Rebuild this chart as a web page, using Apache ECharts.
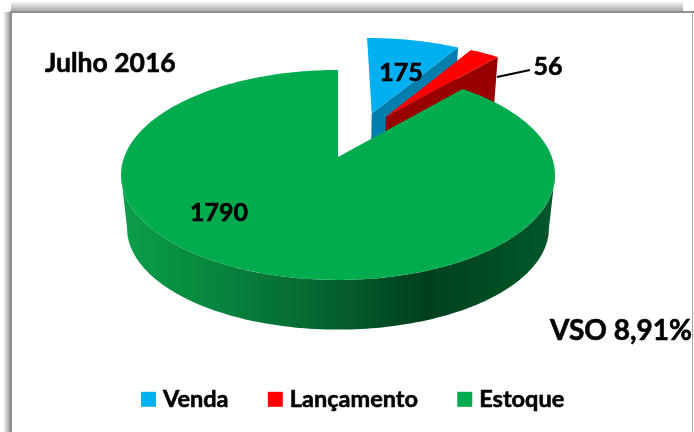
<!DOCTYPE html>
<html>
<head>
<meta charset="utf-8">
<style>html,body{margin:0;padding:0;background:#fff}#c{width:694px;height:432px}</style>
<script src="https://cdn.jsdelivr.net/npm/echarts@6/dist/echarts.min.js"></script>
</head>
<body>
<div id="c"></div>
<script>
const categories = ['Venda', 'Lançamento', 'Estoque'];
const values = [175, 56, 1790];
const chartTitle = 'Julho 2016';
const noteText = 'VSO 8,91%';

const topColors = ['#00B0F0', '#FF0000', '#00AC4E'];
const wallColors = ['#007FAE', '#990000', null];
const explode = [[0.17, 0.46], [0.24, 0.425], [0, 0]];
const labelPos = [[401, 73], [548, 67], [219, 213]];

const FONT = 'Lato, "Open Sans", sans-serif';
const total = values.reduce((a, b) => a + b, 0);
const starts = values.map((_, i) => values.slice(0, i).reduce((a, b) => a + b, 0) / total * Math.PI * 2);
const ends = values.map((_, i) => values.slice(0, i + 1).reduce((a, b) => a + b, 0) / total * Math.PI * 2);

// Perspective projection of the tilted disc
const CX = 338, AY = 157, R = 213.8, A = 101.9, K = 0.171;
// Angles of the left/right silhouette tangents of the projected disc
const SIDE = Math.acos(-K);
function projTop(u, v) {
  const d = 1 + K * v;
  return [CX + R * u / d, AY - A * v / d];
}
function projBottom(u, v) {
  const p = projTop(u, v);
  return [CX + (p[0] - CX) * 0.972, AY + 54 + (p[1] - AY) * 0.965];
}
function arc(proj, i, a0, a1) {
  const e = explode[i], pts = [], n = Math.max(8, Math.ceil((a1 - a0) * 48));
  for (let k = 0; k <= n; k++) {
    const t = a0 + (a1 - a0) * k / n;
    pts.push(proj(Math.sin(t) + e[0], Math.cos(t) + e[1]));
  }
  return pts;
}
function renderSlice(i) {
  return function (params, api) {
    const e = explode[i], a0 = starts[i], a1 = ends[i];
    const apex = projTop(e[0], e[1]);
    const apexB = projBottom(e[0], e[1]);
    const topArc = arc(projTop, i, a0, a1);
    const botArc = arc(projBottom, i, a0, a1);
    const children = [];
    if (wallColors[i]) {
      children.push({
        type: 'polygon',
        shape: { points: [apex, topArc[topArc.length - 1], botArc[botArc.length - 1], apexB] },
        style: { fill: wallColors[i] }
      });
    } else {
      const w0 = Math.max(a0, SIDE), w1 = Math.min(a1, Math.PI * 2 - SIDE);
      children.push({
        type: 'polygon',
        shape: { points: arc(projTop, i, w0, w1).concat(arc(projBottom, i, w0, w1).reverse()) },
        style: {
          fill: new echarts.graphic.LinearGradient(121, 0, 555, 0, [
            { offset: 0, color: '#0B9E4B' },
            { offset: 0.18, color: '#078A3F' },
            { offset: 0.42, color: '#066B33' },
            { offset: 0.7, color: '#00401D' },
            { offset: 0.82, color: '#004A22' },
            { offset: 1, color: '#01582A' }
          ], true)
        }
      });
    }
    children.push({
      type: 'polygon',
      shape: { points: [apex].concat(topArc) },
      style: { fill: topColors[i] }
    });
    if (categories[i] === 'Lançamento') {
      children.push({
        type: 'line',
        shape: { x1: 497, y1: 77, x2: 530, y2: 70 },
        style: { stroke: '#000', lineWidth: 2 }
      });
    }
    children.push({
      type: 'text',
      style: {
        x: labelPos[i][0], y: labelPos[i][1],
        text: String(api.value(0)),
        font: '700 25px ' + FONT,
        fill: '#000', stroke: '#000', lineWidth: 0.6,
        align: 'center', verticalAlign: 'middle'
      }
    });
    return { type: 'group', children };
  };
}

const heavy = { textBorderColor: '#000', textBorderWidth: 0.6 };
const chart = echarts.init(document.getElementById('c'), null, { renderer: 'canvas' });
chart.setOption({
  animation: false,
  backgroundColor: '#fff',
  title: [
    { text: chartTitle, left: 45, top: 50, padding: 0, textStyle: Object.assign({ fontFamily: FONT, fontWeight: 700, fontSize: 26.5, color: '#000' }, heavy) },
    { text: noteText, left: 550, top: 317, padding: 0, textStyle: Object.assign({ fontFamily: FONT, fontWeight: 700, fontSize: 28, color: '#000' }, heavy) }
  ],
  legend: {
    data: categories, left: 141, top: 387, padding: 0,
    itemWidth: 15, itemHeight: 15, itemGap: 39, icon: 'rect',
    textStyle: Object.assign({ fontFamily: FONT, fontWeight: 700, fontSize: 23.5, color: '#000', padding: [0, 0, 0, 2] }, heavy)
  },
  graphic: [
    { type: 'rect', z: -10, shape: { x: 3, y: 12, width: 8, height: 420 },
      style: { fill: new echarts.graphic.LinearGradient(0, 0, 1, 0, [{ offset: 0, color: '#ffffff' }, { offset: 1, color: '#8c8c8c' }]) } },
    { type: 'rect', z: -10, shape: { x: 11, y: 1, width: 672, height: 10 },
      style: { fill: new echarts.graphic.LinearGradient(0, 0, 0, 1, [{ offset: 0, color: '#ffffff' }, { offset: 1, color: '#a8a8a8' }]) } },
    { type: 'rect', z: -9, shape: { x: 10, y: 11, width: 684, height: 2 }, style: { fill: '#8f8f8f' } },
    { type: 'rect', z: -9, shape: { x: 10, y: 11, width: 2, height: 421 }, style: { fill: '#8f8f8f' } },
    { type: 'rect', z: -9, shape: { x: 692, y: 12, width: 1, height: 420 }, style: { fill: '#a6a6a6' } }
  ],
  series: categories.map((name, i) => ({
    type: 'custom',
    name,
    coordinateSystem: 'none',
    z: 2 + i,
    silent: true,
    itemStyle: { color: topColors[i] },
    renderItem: renderSlice(i),
    data: [[values[i]]]
  }))
});
</script>
</body>
</html>
